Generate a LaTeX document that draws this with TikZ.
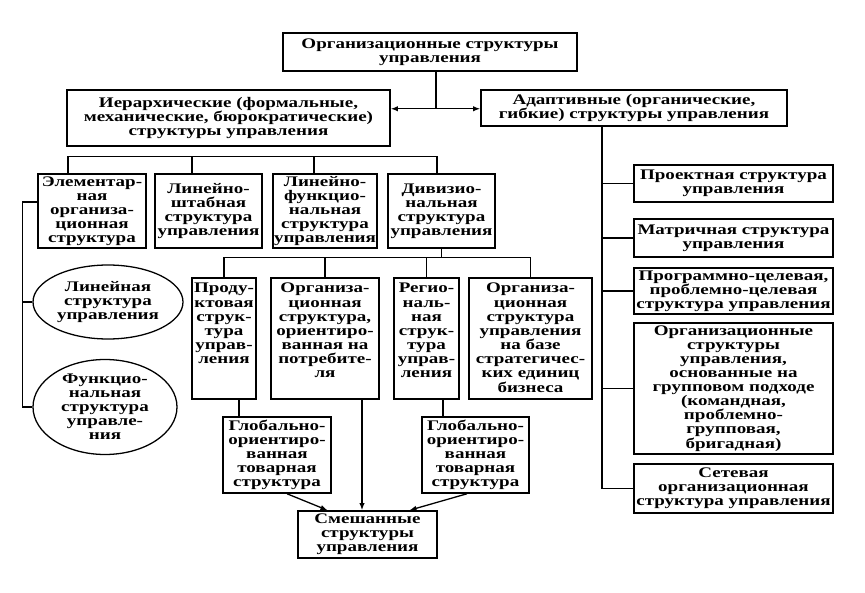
\documentclass[tikz,border=0pt]{standalone}
\usepackage{fontspec}
\setmainfont[FakeStretch=1.3]{Liberation Serif}
\usepackage{tikz}
\usetikzlibrary{arrows.meta, positioning, shapes.geometric, calc}
\newcommand{\toplines}[1]{\begin{tabular}[t]{@{}c@{}}#1\end{tabular}}

\begin{document}
\begin{tikzpicture}[
    x=0.03cm, y=-0.03cm,
    box/.style={rectangle, draw, line width=1.3pt, inner sep=1pt, align=center,
                font=\fontsize{12.5}{12}\selectfont\bfseries},
    tall/.style={box, anchor=north, minimum height=0pt,
                 text height=12pt, text depth=121*0.03cm-14pt},
    oval/.style={ellipse, draw, line width=1.1pt, inner sep=0pt, align=center,
                font=\fontsize{12.5}{12}\selectfont\bfseries},
    link/.style={line width=1.1pt},
    arr/.style={-{Latex[length=6pt, width=4.5pt]}, line width=1.1pt},
]
    \useasboundingbox (0,0) rectangle (865,593);

    % top levels
    \node[box, minimum width=294*0.03cm, minimum height=38*0.03cm] (top) at (430,52)
        {Организационные структуры\\управления};
    \node[box, minimum width=323*0.03cm, minimum height=56*0.03cm] (hier) at (228.5,118)
        {Иерархические (формальные,\\механические, бюрократические)\\структуры управления};
    \node[box, minimum width=306*0.03cm, minimum height=36*0.03cm] (adapt) at (634,108)
        {Адаптивные (органические,\\гибкие) структуры управления};

    % hierarchical branch
    \node[box, minimum width=108*0.03cm, minimum height=74*0.03cm] (elem) at (92,211)
        {Элементар-\\ная\\организа-\\ционная\\структура};
    \node[box, minimum width=107*0.03cm, minimum height=74*0.03cm] (lshtab) at (208.5,211)
        {Линейно-\\штабная\\структура\\управления};
    \node[box, minimum width=104*0.03cm, minimum height=74*0.03cm] (lfunc) at (325,211)
        {Линейно-\\функцио-\\нальная\\структура\\управления};
    \node[box, minimum width=107*0.03cm, minimum height=74*0.03cm] (div) at (441.5,211)
        {Дивизио-\\нальная\\структура\\управления};

    \node[oval, minimum width=150*0.03cm, minimum height=74*0.03cm] (lin) at (108,302)
        {Линейная\\структура\\управления};
    \node[oval, minimum width=144*0.03cm, minimum height=95*0.03cm] (func) at (105,407)
        {Функцио-\\нальная\\структура\\управле-\\ния};

    % divisional branch
    \node[tall, minimum width=64*0.03cm] (prod) at (224,277)
        {\toplines{Проду-\\ктовая\\струк-\\тура\\управ-\\ления}};
    \node[tall, minimum width=108*0.03cm] (cons) at (325,277)
        {\toplines{Организа-\\ционная\\структура,\\ориентиро-\\ванная на\\потребите-\\ля}};
    \node[tall, minimum width=65*0.03cm] (region) at (426.5,277)
        {\toplines{Регио-\\наль-\\ная\\струк-\\тура\\управ-\\ления}};
    \node[tall, minimum width=123*0.03cm] (sbu) at (530.5,277)
        {\toplines{Организа-\\ционная\\структура\\управления\\на базе\\стратегичес-\\ких единиц\\бизнеса}};

    \node[box, minimum width=108*0.03cm, minimum height=76*0.03cm] (globA) at (277,455)
        {Глобально-\\ориентиро-\\ванная\\товарная\\структура};
    \node[box, minimum width=107*0.03cm, minimum height=76*0.03cm] (globB) at (475.5,455)
        {Глобально-\\ориентиро-\\ванная\\товарная\\структура};
    \node[box, minimum width=139*0.03cm, minimum height=47*0.03cm] (mixed) at (367.5,534.5)
        {Смешанные\\структуры\\управления};

    % adaptive branch
    \node[box, minimum width=199*0.03cm, minimum height=37*0.03cm] (proj) at (733.5,183.5)
        {Проектная структура\\управления};
    \node[box, minimum width=199*0.03cm, minimum height=38*0.03cm] (matrix) at (733.5,238)
        {Матричная структура\\управления};
    \node[box, minimum width=199*0.03cm, minimum height=46*0.03cm] (prog) at (733.5,291)
        {Программно-целевая,\\проблемно-целевая\\структура управления};
    \node[box, minimum width=199*0.03cm, minimum height=131*0.03cm] (group) at (733.5,388.5)
        {Организационные\\структуры\\управления,\\основанные на\\групповом подходе\\(командная,\\проблемно-\\групповая,\\бригадная)};
    \node[box, minimum width=199*0.03cm, minimum height=49*0.03cm] (net) at (733.5,488.5)
        {Сетевая\\организационная\\структура управления};

    % connectors
    \coordinate (split) at ($(top.south)+(6,37)$);
    \draw[link] (top.south -| split) -- (split);
    \draw[arr] (split) -- (hier.east |- split);
    \draw[arr] (split) -- (adapt.west |- split);

    \coordinate (hbus) at ($(hier.south)+(0,10)$);
    \foreach \n/\dx in {elem/-24, lshtab/-16.5, lfunc/-11, div/-4.5}
        \draw[link] ($(\n.north)+(\dx,0)$) |- (hbus);

    \coordinate (lv) at ($(elem.west)+(-15,-9)$);
    \draw[link] ($(elem.west)+(0,-9)$) -- (lv) |- (func.west);
    \draw[link] (lv) |- (lin.west);

    \draw[link] (div.south) -- ++(0,9) coordinate (dbus);
    \foreach \n in {prod, cons, region, sbu}
        \draw[link] (\n.north) |- (dbus);

    \coordinate (ga) at ($(prod.south)+(15,0)$);
    \draw[link] (ga) -- (ga |- globA.north);
    \coordinate (gb) at ($(region.south)+(16.5,0)$);
    \draw[link] (gb) -- (gb |- globB.north);

    \draw[arr] ($(globA.south)+(10,0)$) -- ($(mixed.north)+(-40,0)$);
    \draw[arr] ($(cons.south)+(37,0)$) -- ($(mixed.north)+(-5.5,0)$);
    \draw[arr] ($(globB.south)+(-8.5,0)$) -- ($(mixed.north)+(42,0)$);

    \coordinate (av) at ($(adapt.south)+(-32,0)$);
    \foreach \n in {proj, matrix, prog, group, net}
        \draw[link] (av) |- (\n.west);
\end{tikzpicture}
\end{document}
